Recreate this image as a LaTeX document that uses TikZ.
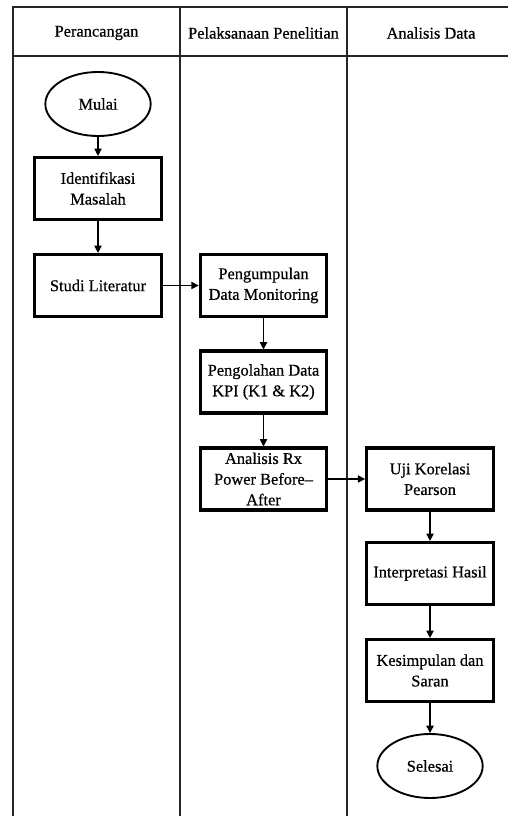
\documentclass[tikz,border=0pt]{standalone}
\usepackage{fontspec}
\setmainfont{Liberation Serif}[FakeBold=0.6]
\usetikzlibrary{arrows.meta,shapes.geometric}
\begin{document}
\begin{tikzpicture}[x=0.75pt,y=-0.75pt,
  every node/.style={font=\fontsize{12.3}{15.5}\selectfont},
  stepbox/.style={draw, line width=2.3pt, minimum width=95pt, minimum height=46.5pt, inner sep=1pt, align=center},
  term/.style={draw, ellipse, line width=1.4pt, minimum width=79pt, minimum height=48pt, inner sep=0pt},
  lane/.style={line width=0.8pt, draw=black!85},
  conn/.style={line width=0.8pt, -{Triangle[length=5.5pt,width=5.5pt]}},
  hdr/.style={inner sep=0pt}]
\useasboundingbox (0,0) rectangle (508,816);
% swimlane frame
\draw[lane] (508,7) -- (13,7) -- (13,816);
\draw[lane] (13,56) -- (508,56);
\draw[lane] (180,7) -- (180,816);
\draw[lane] (347,7) -- (347,816);
\node[hdr] (h1) at (96.5,33) {Perancangan};
\node[hdr] (h2) at (263.5,33) {Pelaksanaan Penelitian};
\node[hdr] (h3) at (431,33) {Analisis Data};
% nodes
\node[term] (mulai) at (98,104) {Mulai};
\node[stepbox] (ident) at (98,188.5) {Identifikasi\\Masalah};
\node[stepbox] (studi) at (98,285.5) {Studi Literatur};
\node[stepbox] (pengum) at (263.5,285.5) {Pengumpulan\\Data Monitoring};
\node[stepbox] (pengol) at (263.5,382) {Pengolahan Data\\KPI (K1 \& K2)};
\node[stepbox] (analisis) at (263.5,479) {Analisis Rx\\Power Before–\\After};
\node[stepbox] (uji) at (430,479) {Uji Korelasi\\Pearson};
\node[stepbox] (interp) at (430,573.5) {Interpretasi Hasil};
\node[stepbox] (kesimp) at (430,670.5) {Kesimpulan dan\\Saran};
\node[term] (selesai) at (430,766) {Selesai};
% connectors
\draw[conn] (mulai) -- (ident);
\draw[conn] (ident) -- (studi);
\draw[conn] (studi) -- (pengum);
\draw[conn] (pengum) -- (pengol);
\draw[conn] (pengol) -- (analisis);
\draw[conn] (analisis) -- (uji);
\draw[conn] (uji) -- (interp);
\draw[conn] (interp) -- (kesimp);
\draw[conn] (kesimp) -- (selesai);
\end{tikzpicture}
\end{document}
